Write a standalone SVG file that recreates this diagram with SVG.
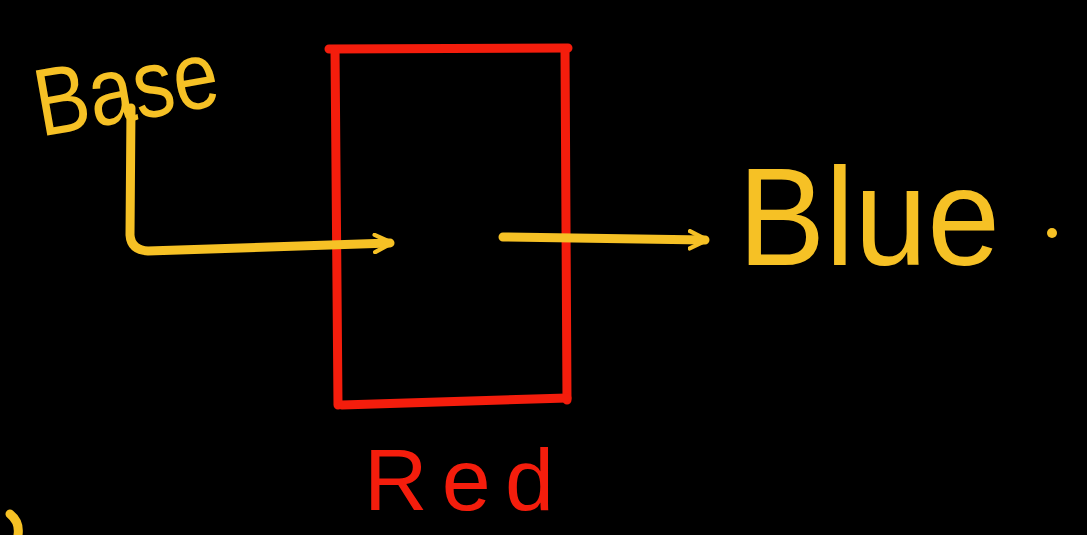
<svg xmlns="http://www.w3.org/2000/svg" width="1087" height="535" viewBox="0 0 1087 535">
<style>
.y{fill:none;stroke:#f6c125;stroke-width:9;stroke-linecap:round;stroke-linejoin:round}
.r{fill:none;stroke:#f41d0c;stroke-width:9;stroke-linecap:round;stroke-linejoin:round}
.ty{fill:#f6c125;font-family:"Liberation Sans",sans-serif}
.tr{fill:#f41d0c;font-family:"Liberation Sans",sans-serif}
</style>
<defs>
<marker id="ah" viewBox="0 0 10 10" refX="8" refY="5" markerWidth="2.4" markerHeight="2.4" orient="auto" markerUnits="strokeWidth">
<path d="M1,1 L9,5 L1,9" fill="none" stroke="#f6c125" stroke-width="2" stroke-linecap="round"/>
</marker>
</defs>
<rect width="1087" height="535" fill="#000"/>
<g id="red-box">
<path class="r" d="M329,49 L568,48"/>
<path class="r" d="M335,50 L338,405"/>
<path class="r" d="M565,50 L567,400"/>
<path class="r" d="M342,405 L567,398"/>
</g>
<g id="connectors">
<path class="y" d="M131,108 L130,235 Q131,250 148,251 L390,243" marker-end="url(#ah)"/>
<path class="y" d="M503,237 L705,240" marker-end="url(#ah)"/>
</g>
<g id="base">
<text class="ty" x="32" y="122" font-size="96" textLength="185" lengthAdjust="spacingAndGlyphs" transform="rotate(-10 120 80)">Base</text>
</g>
<g id="blue">
<text class="ty" x="738" y="265" font-size="140" textLength="262" lengthAdjust="spacingAndGlyphs">Blue</text>
<circle cx="1052" cy="233" r="5" fill="#f6c125"/>
</g>
<g id="red-label">
<text class="tr" x="364" y="510" font-size="88" textLength="190" lengthAdjust="spacing">Red</text>
</g>
<path class="y" d="M10,514 Q20,522 18,535"/>
</svg>
